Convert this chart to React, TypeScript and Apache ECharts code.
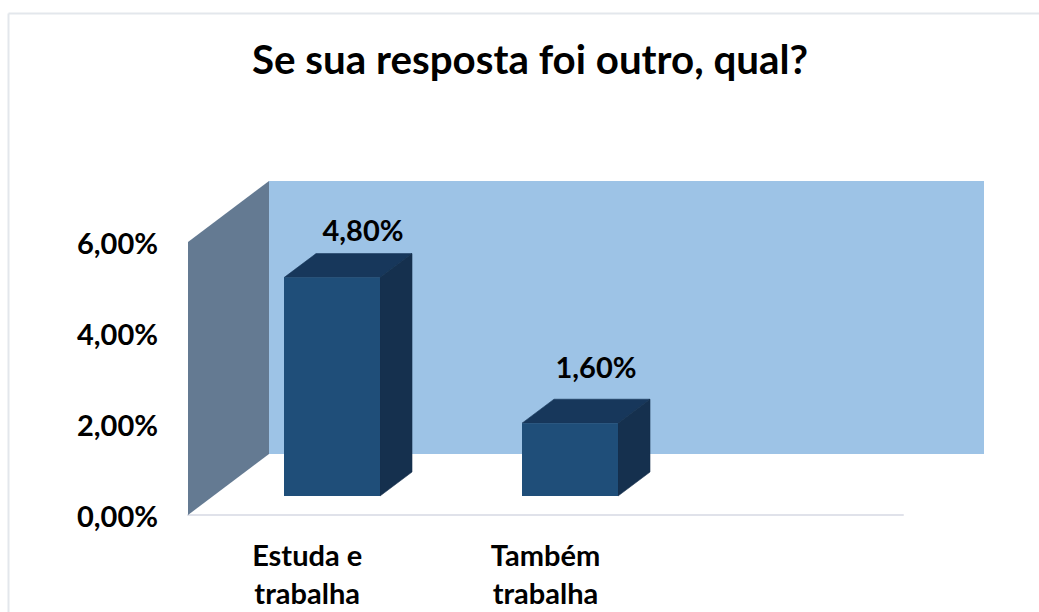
import React, { useEffect, useRef } from "react";
import * as echarts from "echarts";

const titleText = "Se sua resposta foi outro, qual?";
const categories = ["Estuda e\ntrabalha", "Também\ntrabalha", ""];
const values = [4.8, 1.6];
const valueLabels = ["4,80%", "1,60%"];
const yMax = 6;
const yInterval = 2;

const labelOffsets = [
  [31, -48],
  [26, -57],
];

const FONT = "Lato, Carlito, 'Open Sans', sans-serif";
const WALL_DX = 81;
const WALL_DY = -61;
const BAR_DX = 32;
const BAR_DY = -24;

export default function App() {
  const ref = useRef<HTMLDivElement>(null);
  useEffect(() => {
    const chart = echarts.init(ref.current!, null, { renderer: "svg" });
    chart.setOption({
      animation: false,
      backgroundColor: "#ffffff",
      title: {
        text: titleText,
        left: 525,
        top: 33,
        textAlign: "center",
        textStyle: { fontFamily: FONT, fontWeight: "bold", fontSize: 40.3, color: "#000000" },
      },
      graphic: [
        { type: "line", shape: { x1: 8.5, y1: 13.5, x2: 1039, y2: 13.5 }, style: { stroke: "#e3e7ec", lineWidth: 2 } },
        { type: "line", shape: { x1: 8.5, y1: 13.5, x2: 8.5, y2: 612 }, style: { stroke: "#e3e7ec", lineWidth: 2 } },
      ],
      grid: { left: 188, right: 136, top: 242, bottom: 97, containLabel: false, outerBoundsMode: "none" },
      xAxis: {
        type: "category",
        data: categories,
        axisLine: { show: true, lineStyle: { color: "#e0e2ea", width: 2 } },
        axisTick: { show: false },
        axisLabel: {
          interval: 0,
          margin: 20,
          fontFamily: FONT,
          fontWeight: "bold",
          fontSize: 29,
          lineHeight: 38,
          color: "#000000",
        },
      },
      yAxis: {
        type: "value",
        min: 0,
        max: yMax,
        interval: yInterval,
        axisLine: { show: false },
        axisTick: { show: false },
        splitLine: { show: false },
        axisLabel: {
          margin: 30,
          fontFamily: FONT,
          fontWeight: "bold",
          fontSize: 29,
          color: "#000000",
          formatter: (v: number) => v.toFixed(2).replace(".", ",") + "%",
        },
      },
      series: [
        {
          type: "custom",
          coordinateSystem: "cartesian2d",
          clip: false,
          z: 1,
          silent: true,
          data: [[0, 0]],
          renderItem: (p: any, api: any) => {
            const o = api.coord([0, 0]);
            const top = api.coord([0, yMax]);
            const x0 = p.coordSys.x;
            const w = p.coordSys.width;
            const y0 = o[1];
            const yt = top[1];
            return {
              type: "group",
              children: [
                {
                  type: "rect",
                  shape: { x: x0 + WALL_DX, y: yt + WALL_DY, width: w, height: y0 - yt },
                  style: { fill: "#9dc3e6" },
                },
                {
                  type: "polygon",
                  shape: {
                    points: [
                      [x0, yt],
                      [x0 + WALL_DX, yt + WALL_DY],
                      [x0 + WALL_DX, y0 + WALL_DY],
                      [x0, y0],
                    ],
                  },
                  style: { fill: "#647a92" },
                },
              ],
            };
          },
        },
        {
          type: "custom",
          coordinateSystem: "cartesian2d",
          clip: false,
          z: 2,
          data: values.map((v, i) => [i, v]),
          encode: { x: 0, y: 1 },
          renderItem: (params: any, api: any) => {
            const i = api.value(0);
            const v = api.value(1);
            const base = api.coord([i, 0]);
            const head = api.coord([i, v]);
            const fw = 96;
            const left = Math.floor(base[0] + 25 - fw / 2);
            const right = left + fw;
            const bottom = base[1] - 19;
            const top = head[1] - 19;
            const off = labelOffsets[params.dataIndex];
            return {
              type: "group",
              children: [
                {
                  type: "polygon",
                  shape: {
                    points: [
                      [left, top],
                      [left + BAR_DX, top + BAR_DY],
                      [right + BAR_DX, top + BAR_DY],
                      [right, top],
                    ],
                  },
                  style: { fill: "#17375b", stroke: "#17375b", lineWidth: 0.6 },
                },
                {
                  type: "polygon",
                  shape: {
                    points: [
                      [right, top],
                      [right + BAR_DX, top + BAR_DY],
                      [right + BAR_DX, bottom + BAR_DY],
                      [right, bottom],
                    ],
                  },
                  style: { fill: "#15304e", stroke: "#15304e", lineWidth: 0.6 },
                },
                {
                  type: "rect",
                  shape: { x: left, y: top, width: fw, height: bottom - top },
                  style: { fill: "#1f4e79" },
                },
                {
                  type: "text",
                  style: {
                    text: valueLabels[params.dataIndex],
                    x: (left + right) / 2 + off[0],
                    y: top + off[1],
                    align: "center",
                    verticalAlign: "middle",
                    fontFamily: FONT,
                    fontWeight: "bold",
                    fontSize: 29,
                    fill: "#000000",
                  },
                },
              ],
            };
          },
        },
      ],
    });
    return () => chart.dispose();
  }, []);
  return <div ref={ref} style={{ position: "fixed", left: 0, top: 0, width: 1039, height: 612 }} />;
}
